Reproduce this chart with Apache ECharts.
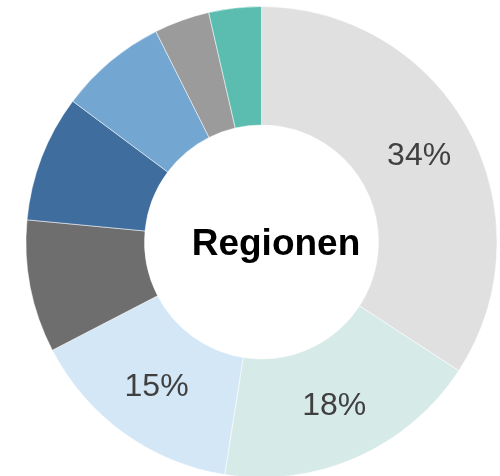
<!DOCTYPE html>
<html>
<head>
<meta charset="utf-8">
<script src="https://cdn.jsdelivr.net/npm/echarts@6/dist/echarts.min.js"></script>
</head>
<body style="margin:0">
<div id="main" style="width:500px;height:476px;"></div>
<script>
// Regionen, im Uhrzeigersinn ab 12 Uhr
var regionen = ['Region A', 'Region B', 'Region C', 'Region D', 'Region E', 'Region F', 'Region G', 'Region H'];
var anteile = [34.2, 18.3, 14.9, 9.1, 8.7, 7.4, 3.8, 3.6];
var farben = ['#e0e0e0', '#d6eae7', '#d4e7f7', '#6e6e6e', '#3f6e9e', '#73a6d1', '#9b9b9b', '#5bbdaf'];
var mitLabel = [true, true, true, false, false, false, false, false];

var myChart = echarts.init(document.getElementById('main'));

var daten = regionen.map(function (n, i) {
  return {
    name: n,
    value: anteile[i],
    itemStyle: { color: farben[i] },
    label: { show: mitLabel[i] }
  };
});

myChart.setOption({
  animation: false,
  graphic: [{
    type: 'text',
    x: 276,
    y: 245,
    style: {
      text: 'Regionen',
      fontFamily: 'Liberation Sans, Arial, sans-serif',
      fontWeight: 'bold',
      fontSize: 37,
      fill: '#000',
      textAlign: 'center',
      textVerticalAlign: 'middle'
    }
  }],
  series: [{
    type: 'pie',
    center: [261.5, 242],
    radius: [117, 235.5],
    startAngle: 90,
    clockwise: true,
    avoidLabelOverlap: false,
    itemStyle: { borderColor: '#ffffff', borderWidth: 0.5 },
    label: {
      position: 'inside',
      fontFamily: 'Liberation Sans, Arial, sans-serif',
      fontSize: 32,
      color: '#404040',
      formatter: function (p) { return Math.round(p.percent) + '%'; }
    },
    labelLine: { show: false },
    emphasis: { disabled: true },
    data: daten
  }]
});
</script>
</body>
</html>
